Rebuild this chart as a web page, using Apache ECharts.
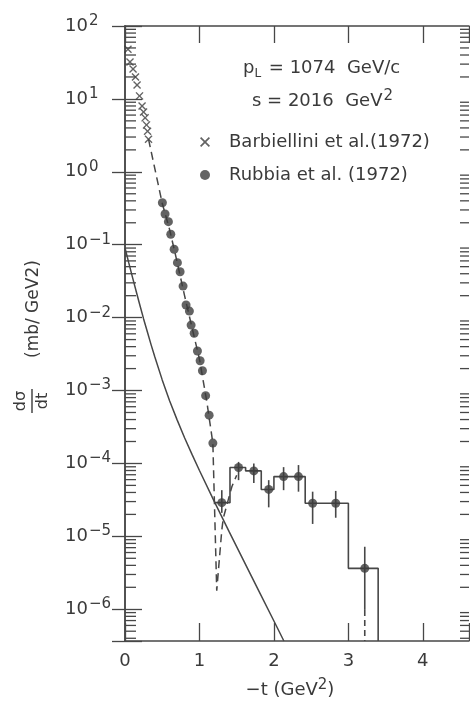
<!DOCTYPE html>
<html>
<head>
<meta charset="utf-8">
<script src="https://cdn.jsdelivr.net/npm/echarts@6/dist/echarts.min.js"></script>
<style>
  html, body { margin: 0; padding: 0; background: #ffffff; }
  #chart { width: 470px; height: 708px; }
</style>
</head>
<body>
<div id="chart"></div>
<script>
// ---- data: -t in GeV^2, dσ/dt in mb/GeV^2 ----
const barbT = [0.040, 0.067, 0.108, 0.141, 0.162, 0.195, 0.229, 0.249, 0.270, 0.289, 0.303, 0.316];
const barbV = [48, 32, 25.7, 20, 15.5, 11, 8.0, 6.6, 5.5, 4.4, 3.6, 2.8];

const rubT = [0.502, 0.538, 0.583, 0.615, 0.660, 0.704, 0.740, 0.780, 0.820, 0.865, 0.888, 0.929, 0.973, 1.009, 1.040, 1.083, 1.130, 1.180];
const rubV = [0.377, 0.264, 0.207, 0.139, 0.0866, 0.0567, 0.0426, 0.0271, 0.0149, 0.0123, 0.0079, 0.0061, 0.00348, 0.00256, 0.00187, 8.5e-4, 4.6e-4, 1.9e-4];

// large-|t| points with their error bars
const hiT  = [1.30, 1.525, 1.73, 1.93, 2.13, 2.33, 2.52, 2.83, 3.22];
const hiV  = [2.9e-5, 8.8e-5, 7.9e-5, 4.4e-5, 6.6e-5, 6.6e-5, 2.84e-5, 2.84e-5, 3.64e-6];
const hiLo = [2.1e-5, 5.9e-5, 5.4e-5, 2.5e-5, 4.3e-5, 4.1e-5, 1.48e-5, 1.8e-5, 9.8e-7];
const hiHi = [4.3e-5, 1.05e-4, 1.0e-4, 5.9e-5, 8.9e-5, 9.5e-5, 4.1e-5, 4.2e-5, 7.2e-6];

// histogram bins
const binEdges = [1.20, 1.41, 1.62, 1.83, 2.00, 2.42, 3.00, 3.40];
const binVals  = [2.9e-5, 8.8e-5, 7.9e-5, 4.4e-5, 6.6e-5, 2.84e-5, 3.64e-6];

// dashed fit through the data, with the diffraction dip
const fitT = [0.316, 0.50, 0.60, 0.70, 0.80, 0.90, 1.00, 1.10, 1.18, 1.232, 1.30, 1.32, 1.435, 1.50];
const fitV = [2.8, 0.37, 0.16, 0.058, 0.020, 0.0073, 0.0027, 6.9e-4, 1.9e-4, 1.8e-6, 1.22e-5, 1.78e-5, 4.8e-5, 6.9e-5];

// solid curve
const curveT = [0.0, 0.05, 0.1, 0.15, 0.2, 0.25, 0.3, 0.35, 0.4, 0.5, 0.6, 0.7, 0.8, 0.9, 1.0, 1.2, 1.4, 1.6, 1.8, 2.0, 2.134];
const curveV = [0.090, 0.0568, 0.036, 0.023, 0.0148, 9.6e-3, 6.4e-3, 4.26e-3, 2.9e-3, 1.4e-3, 7.2e-4, 3.96e-4, 2.25e-4, 1.33e-4, 8.0e-5, 3.0e-5, 1.15e-5, 4.5e-6, 1.76e-6, 6.9e-7, 3.67e-7];

// axes
const xTicks = [0, 1, 2, 3, 4];
const yDecades = [2, 1, 0, -1, -2, -3, -4, -5, -6];
const X_MIN = 0, X_MAX = 4.62;
const Y_MIN = 3.67e-7, Y_MAX = 100;

const nameBarb = 'Barbiellini et al.(1972)';
const nameRub = 'Rubbia et al. (1972)';

// ---- styling ----
const INK = '#3a3a3a';
const LINE = '#474747';
const FONT = 'DejaVu Sans';
const CROSS = 'path://M0,1.2L1.2,0L5,3.8L8.8,0L10,1.2L6.2,5L10,8.8L8.8,10L5,6.2L1.2,10L0,8.8L3.8,5Z';

const pairs = (xs, ys) => xs.map((x, i) => [x, ys[i]]);

// stair outline of the histogram, closed down to the axis at the last edge
const histPts = [];
binVals.forEach((v, i) => { histPts.push([binEdges[i], v]); histPts.push([binEdges[i + 1], v]); });
histPts.push([binEdges[binEdges.length - 1], Y_MIN]);

// 2..9 x 10^n minor tick values inside the axis range
const minorVals = [];
for (let n = -7; n <= 1; n++) for (let k = 2; k <= 9; k++) {
  const v = k * Math.pow(10, n);
  if (v >= Y_MIN && v <= Y_MAX) minorVals.push(v);
}

const chart = echarts.init(document.getElementById('chart'), null, { renderer: 'canvas' });

const axisLineStyle = { color: LINE, width: 1.5 };

chart.setOption({
  backgroundColor: '#ffffff',
  animation: false,
  grid: { left: 125, top: 26, right: 1, bottom: 67, containLabel: false, outerBoundsMode: 'none' },
  legend: {
    left: 195, top: 127, orient: 'vertical',
    itemWidth: 10, itemHeight: 10, itemGap: 13,
    selectedMode: false,
    data: [{ name: nameBarb, icon: CROSS }, { name: nameRub, icon: 'circle' }],
    textStyle: { fontFamily: FONT, fontSize: 18, color: INK, lineHeight: 20, padding: [0, 0, 0, 14] }
  },
  xAxis: [
    {
      type: 'value', position: 'bottom', min: X_MIN, max: X_MAX, interval: 1,
      axisLine: { lineStyle: axisLineStyle },
      axisTick: { inside: true, length: 18, lineStyle: { color: LINE, width: 1.3 } },
      splitLine: { show: false },
      axisLabel: {
        margin: 11, color: INK, fontFamily: FONT, fontSize: 18,
        formatter: v => (xTicks.indexOf(v) >= 0 ? String(v) : '')
      }
    },
    {
      type: 'value', position: 'top', min: X_MIN, max: X_MAX, interval: 1,
      axisLine: { lineStyle: axisLineStyle },
      axisTick: { inside: true, length: 17, lineStyle: { color: LINE, width: 1.3 } },
      splitLine: { show: false },
      axisLabel: { show: false }
    }
  ],
  yAxis: [
    {
      type: 'log', logBase: 10, position: 'left', min: Y_MIN, max: Y_MAX,
      axisLine: { lineStyle: axisLineStyle },
      axisTick: { inside: true, length: 17, lineStyle: { color: LINE, width: 1.3 } },
      splitLine: { show: false },
      axisLabel: {
        margin: 60, align: 'left', color: INK, fontFamily: FONT,
        formatter: v => {
          const e = Math.log10(v), r = Math.round(e);
          if (Math.abs(e - r) > 1e-6 || yDecades.indexOf(r) < 0) return '';
          return '{b|10}{s|' + (r < 0 ? '\u2212' + (-r) : r) + '}';
        },
        rich: {
          b: { fontFamily: FONT, fontSize: 18, color: INK },
          s: { fontFamily: FONT, fontSize: 15, color: INK, padding: [0, 0, 10, 1] }
        }
      }
    },
    {
      type: 'log', logBase: 10, position: 'right', min: Y_MIN, max: Y_MAX,
      axisLine: { lineStyle: axisLineStyle },
      axisTick: { inside: true, length: 13, lineStyle: { color: LINE, width: 1.3 } },
      splitLine: { show: false },
      axisLabel: { show: false }
    }
  ],
  graphic: [
    {
      type: 'text', x: 243, y: 68,
      style: {
        text: 'p{sub|L} = 1074  GeV/c', fill: INK, font: '18px "' + FONT + '"',
        verticalAlign: 'middle',
        rich: { sub: { fontFamily: FONT, fontSize: 12, fill: INK, padding: [12, 2, 0, 0] } }
      }
    },
    {
      type: 'text', x: 252, y: 101,
      style: {
        text: 's = 2016  GeV{sup|2}', fill: INK, font: '18px "' + FONT + '"',
        verticalAlign: 'middle',
        rich: { sup: { fontFamily: FONT, fontSize: 15, fill: INK, padding: [0, 0, 10, 1] } }
      }
    },
    {
      type: 'text', x: 290, y: 690,
      style: {
        text: '\u2212t (GeV{sup|2})', fill: INK, font: '18px "' + FONT + '"',
        align: 'center', verticalAlign: 'middle',
        rich: { sup: { fontFamily: FONT, fontSize: 15, fill: INK, padding: [0, 0, 10, 0] } }
      }
    },
    {
      // rotated y-axis title: dσ/dt (mb/ GeV2)
      type: 'group', x: 32, y: 401, rotation: Math.PI / 2,
      children: [
        { type: 'text', x: 0, y: -11, style: { text: 'd\u03c3', fill: INK, font: '16px "' + FONT + '"', align: 'center', verticalAlign: 'middle' } },
        { type: 'line', shape: { x1: -12, y1: 0, x2: 12, y2: 0 }, style: { stroke: INK, lineWidth: 1.4 } },
        { type: 'text', x: 0, y: 11, style: { text: 'dt', fill: INK, font: '16px "' + FONT + '"', align: 'center', verticalAlign: 'middle' } },
        { type: 'text', x: 43, y: 2, style: { text: '(mb/ GeV2)', fill: INK, font: '17px "' + FONT + '"', align: 'left', verticalAlign: 'middle' } }
      ]
    }
  ],
  series: [
    {
      name: 'curve', type: 'line', showSymbol: false, smooth: false, silent: true,
      data: pairs(curveT, curveV), lineStyle: { color: LINE, width: 1.5 }, z: 2
    },
    {
      name: 'fit', type: 'line', showSymbol: false, silent: true,
      data: pairs(fitT, fitV), lineStyle: { color: LINE, width: 1.5, type: [8, 5] }, z: 2
    },
    {
      name: 'histogram', type: 'line', showSymbol: false, silent: true,
      data: histPts, lineStyle: { color: LINE, width: 1.6 }, z: 2
    },
    {
      name: 'lowTail', type: 'line', showSymbol: false, silent: true,
      data: [[hiT[hiT.length - 1], hiLo[hiLo.length - 1]], [hiT[hiT.length - 1], Y_MIN]],
      lineStyle: { color: LINE, width: 1.6, type: [6, 4] }, z: 2
    },
    {
      name: 'errors', type: 'custom', silent: true, z: 3,
      data: hiT.map((t, i) => [t, hiLo[i], hiHi[i]]),
      renderItem: (params, api) => {
        const a = api.coord([api.value(0), api.value(1)]);
        const b = api.coord([api.value(0), api.value(2)]);
        return { type: 'line', shape: { x1: a[0], y1: a[1], x2: b[0], y2: b[1] }, style: { stroke: LINE, lineWidth: 1.6 } };
      }
    },
    {
      name: 'hiPoints', type: 'scatter', silent: true, symbol: 'circle', symbolSize: 9,
      data: pairs(hiT, hiV), itemStyle: { color: '#3c3c3c' }, z: 4
    },
    {
      name: nameRub, type: 'scatter', silent: true, symbol: 'circle', symbolSize: 9,
      data: pairs(rubT, rubV), itemStyle: { color: '#3c3c3c' }, z: 4
    },
    {
      name: nameBarb, type: 'scatter', silent: true, symbol: CROSS, symbolSize: 8,
      data: pairs(barbT, barbV), itemStyle: { color: '#3c3c3c' }, z: 4
    },
    {
      name: 'minorTicks', type: 'custom', silent: true, z: 5, clip: false,
      data: minorVals.map(v => [X_MIN, v]),
      renderItem: (params, api) => {
        const v = api.value(1);
        const l = api.coord([X_MIN, v]);
        const r = api.coord([X_MAX, v]);
        return {
          type: 'group',
          children: [
            { type: 'line', shape: { x1: l[0], y1: l[1], x2: l[0] + 11, y2: l[1] }, style: { stroke: LINE, lineWidth: 1.3 } },
            { type: 'line', shape: { x1: r[0] - 9, y1: r[1], x2: r[0], y2: r[1] }, style: { stroke: LINE, lineWidth: 1.3 } }
          ]
        };
      }
    }
  ]
});
</script>
</body>
</html>
